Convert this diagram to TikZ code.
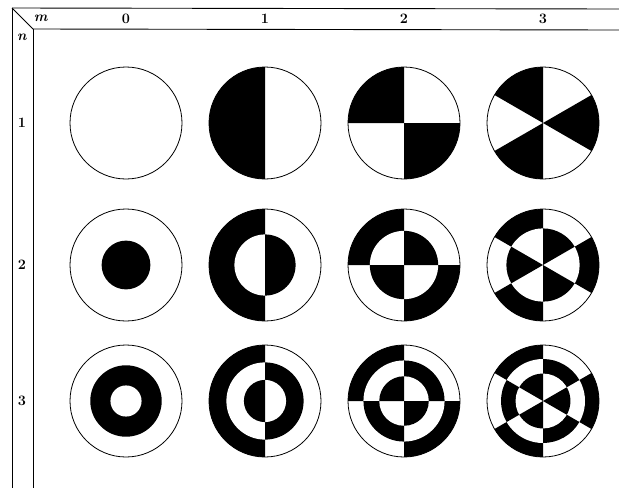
\documentclass[tikz,border=0pt]{standalone}
\usepackage{tikz}
\usetikzlibrary{calc}

\tikzset{
  lbl/.style={font=\Large\bfseries, inner sep=0pt},
  rim/.style={line width=0.8pt},
  framerule/.style={line width=0.9pt}
}
% zeros of J_m, three per order m = 0,1,2,3
\def\zarr{{2.405,5.520,8.654,3.832,7.016,10.173,5.136,8.417,11.620,6.380,9.761,13.015}}

\begin{document}
\begin{tikzpicture}[x=1pt,y=1pt]
		\useasboundingbox (0,0) rectangle (619,-488);
		
		% Draw the table frame
		\draw[framerule] (12,-8) -- (619,-9);
		\draw[framerule] (33,-29) -- (619,-30);
		\draw[framerule] (12,-8) -- (12,-488);
		\draw[framerule] (33,-29) -- (33,-488);
		\draw[framerule] (12,-8) -- (33,-29);
		
		% Corner labels
		\node[lbl] (mlbl) at (41,-18) {\textit{m}};
		\node[lbl] (nlbl) at (22,-37) {\textit{n}};
		
		% Row labels
		\foreach \n/\cy in {1/123,2/265,3/401}{
			\node[lbl] (row\n) at (22,-\cy) {\n};
		}
		
		% Column labels and the patterns
		\foreach \m/\cx in {0/126,1/265,2/404,3/543}{
			\node[lbl] (col\m) at (\cx,-19) {\m};
			\foreach \n/\cy in {1/123,2/265,3/401}{
				\pgfmathsetmacro{\zn}{\zarr[int(\m*3+\n-1)]}
				% rings from the outside in
				\foreach \k in {1,...,\n}{
					\pgfmathsetmacro{\zk}{\zarr[int(\m*3+\n-\k)]}
					\pgfmathsetmacro{\rr}{56*\zk/\zn}
					\ifnum\m=0
						\ifodd\k
							\fill[white] (\cx,-\cy) circle[radius=\rr];
						\else
							\fill[black] (\cx,-\cy) circle[radius=\rr];
						\fi
					\else
						\fill[white] (\cx,-\cy) circle[radius=\rr];
						\pgfmathsetmacro{\w}{180/\m}
						\foreach \j in {1,...,\m}{
							\pgfmathsetmacro{\a}{90+(\k-1)*\w+2*(\j-1)*\w}
							\fill[black] (\cx,-\cy) -- ++(\a:\rr)
								arc[start angle=\a, end angle=\a+\w, radius=\rr] -- cycle;
						}
					\fi
				}
				\draw[rim] (\cx,-\cy) circle[radius=56];
			}
		}
	\end{tikzpicture}
\end{document}
